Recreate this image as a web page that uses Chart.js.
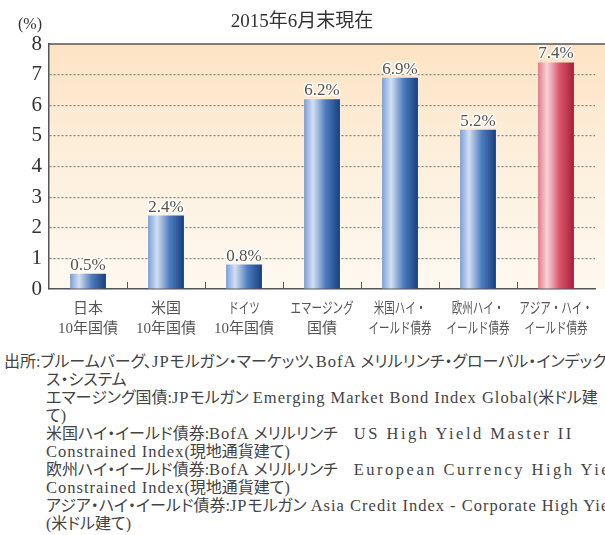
<!DOCTYPE html>
<html lang="ja">
<head>
<meta charset="utf-8">
<script src="https://cdn.jsdelivr.net/npm/chart.js@4/dist/chart.umd.min.js"></script>
<style>
  html, body { margin: 0; padding: 0; background: #fff; width: 605px; height: 535px; overflow: hidden; }
  #wrap { position: relative; width: 605px; height: 345px; }
  #note {
    position: absolute; top: 353px; left: 4px; width: 601px; overflow: hidden;
    font-family: "Liberation Serif", "Noto Sans CJK JP", serif; font-size: 16px; line-height: 18px;
    color: #444; white-space: nowrap; font-feature-settings: "palt";
  }
  #note div.in { padding-left: 42px; }
  #note span.l { font-size: 16.5px; letter-spacing: 1px; }
  #note span.w { font-size: 16.5px; letter-spacing: 2.5px; }
</style>
</head>
<body>
<div id="wrap"><canvas id="chart"></canvas></div>
<div id="note">
  <div>出所:ブルームバーグ、<span class="l">JP</span>モルガン・マーケッツ、<span class="l">BofA</span> メリルリンチ・グローバル・インデック</div>
  <div class="in">ス・システム</div>
  <div class="in">エマージング国債:<span class="l">JP</span>モルガン <span class="l">Emerging Market Bond Index Global</span>(米ドル建</div>
  <div class="in">て)</div>
  <div class="in">米国ハイ・イールド債券:<span class="l">BofA</span> メリルリンチ　<span class="w">US High Yield Master II</span></div>
  <div class="in"><span class="l">Constrained Index</span>(現地通貨建て)</div>
  <div class="in">欧州ハイ・イールド債券:<span class="l">BofA</span> メリルリンチ　<span class="w">European Currency High Yield</span></div>
  <div class="in"><span class="l">Constrained Index</span>(現地通貨建て)</div>
  <div class="in">アジア・ハイ・イールド債券:<span class="l">JP</span>モルガン <span class="l">Asia Credit Index - Corporate High Yield</span></div>
  <div class="in">(米ドル建て)</div>
</div>
<script>
// ================= DATA =================
const categories = [
  ["日本", "10年国債"],
  ["米国", "10年国債"],
  ["ドイツ", "10年国債"],
  ["エマージング", "国債"],
  ["米国ハイ・", "イールド債券"],
  ["欧州ハイ・", "イールド債券"],
  ["アジア・ハイ・", "イールド債券"]
];
const yields = [0.5, 2.4, 0.8, 6.2, 6.9, 5.2, 7.4];
const highlightIndex = 6;   // アジア bar is red
const yMin = 0, yMax = 8, yStep = 1;
const chartTitle = "2015年6月末現在";
const unitLabel = "(%)";

const SERIF = '"Liberation Serif", "Noto Sans CJK JP", serif';
const BAR_PCT = 0.46;

// ================= HELPERS =================
function barGradient(c) {
  const chart = c.chart;
  const xs = chart.scales.x;
  const red = c.dataIndex === highlightIndex;
  if (!chart.chartArea || !xs) return red ? "#d9566c" : "#4d7cc0";
  const cx = xs.getPixelForValue(c.dataIndex);
  const half = (xs.width / categories.length) * BAR_PCT / 2;
  const g = chart.ctx.createLinearGradient(cx - half, 0, cx + half, 0);
  if (red) {
    g.addColorStop(0, "#df7b8b");
    g.addColorStop(0.25, "#f9d3d9");
    g.addColorStop(0.6, "#d9566c");
    g.addColorStop(1, "#a71f38");
  } else {
    g.addColorStop(0, "#7b9fd8");
    g.addColorStop(0.25, "#d3e0f3");
    g.addColorStop(0.6, "#4d7cc0");
    g.addColorStop(1, "#183f7c");
  }
  return g;
}

// ================= PLUGINS =================
const backgroundPlugin = {
  id: "bg",
  beforeDraw(chart) {
    const { ctx, chartArea: a } = chart;
    const g = ctx.createLinearGradient(0, a.top, 0, a.bottom);
    g.addColorStop(0, "#fde3c4");
    g.addColorStop(0.5, "#fdf0de");
    g.addColorStop(1, "#fef9f0");
    ctx.save();
    ctx.fillStyle = g;
    ctx.fillRect(a.left, a.top, chart.width - a.left, a.bottom - a.top);
    ctx.restore();
  }
};

const decorPlugin = {
  id: "decor",
  afterDraw(chart) {
    const { ctx, chartArea: a } = chart;
    const xs = chart.scales.x;
    ctx.save();
    // top border
    ctx.strokeStyle = "#555";
    ctx.lineWidth = 1.5;
    ctx.beginPath();
    ctx.moveTo(a.left, a.top);
    ctx.lineTo(chart.width, a.top);
    ctx.stroke();
    // small ticks between categories
    ctx.lineWidth = 1;
    for (let i = 1; i < categories.length; i++) {
      const x = Math.round((xs.getPixelForValue(i - 1) + xs.getPixelForValue(i)) / 2) + 0.5;
      ctx.beginPath();
      ctx.moveTo(x, a.bottom - 7);
      ctx.lineTo(x, a.bottom);
      ctx.stroke();
    }
    // category labels (kana lines squeezed like the proportional original)
    ctx.font = "15px " + SERIF;
    ctx.textAlign = "center";
    ctx.textBaseline = "middle";
    ctx.fillStyle = "#555";
    categories.forEach((lines, i) => {
      const x = xs.getPixelForValue(i);
      lines.forEach((txt, j) => {
        const w = ctx.measureText(txt).width;
        const kana = /[\u30a0-\u30ff]/.test(txt);
        ctx.fillText(txt, x, a.bottom + 20 + j * 20, kana ? w * 0.7 : w);
      });
    });
    // value labels
    ctx.font = "17px " + SERIF;
    ctx.textBaseline = "alphabetic";
    ctx.lineJoin = "round";
    chart.getDatasetMeta(0).data.forEach((el, i) => {
      const txt = yields[i].toFixed(1) + "%";
      ctx.strokeStyle = "#fff";
      ctx.lineWidth = 3;
      ctx.strokeText(txt, el.x, el.y - 4);
      ctx.fillStyle = "#5a524a";
      ctx.fillText(txt, el.x, el.y - 4);
    });
    // title and unit
    ctx.fillStyle = "#333";
    ctx.textBaseline = "middle";
    ctx.font = "19px " + SERIF;
    ctx.fillText(chartTitle, 302, 22);
    ctx.font = "16px " + SERIF;
    ctx.textAlign = "left";
    ctx.fillText(unitLabel, 18, 25);
    ctx.restore();
  }
};

// ================= CHART =================
new Chart(document.getElementById("chart"), {
  type: "bar",
  data: {
    labels: categories,
    datasets: [{
      data: yields,
      backgroundColor: barGradient,
      borderWidth: 0,
      barPercentage: BAR_PCT,
      categoryPercentage: 1
    }]
  },
  options: {
    responsive: true,
    maintainAspectRatio: false,
    animation: false,
    layout: { padding: { top: 44, right: 10, left: 0, bottom: 0 } },
    plugins: {
      legend: { display: false },
      tooltip: { enabled: false }
    },
    scales: {
      x: {
        grid: { display: false },
        border: { display: true, color: "#555", width: 1.5 },
        ticks: { display: false },
        afterFit(scale) { scale.height = 56; }
      },
      y: {
        min: yMin,
        max: yMax,
        border: { display: true, color: "#555", width: 1.5, dash: [2, 2] },
        grid: {
          drawTicks: false,
          color: ctx => (ctx.tick && (ctx.tick.value === yMin || ctx.tick.value === yMax)) ? "rgba(0,0,0,0)" : "#8a847c",
          lineWidth: 1.2
        },
        ticks: {
          stepSize: yStep,
          color: "#333",
          padding: 7,
          font: { family: SERIF, size: 21 }
        },
        afterFit(scale) { scale.width = 49; }
      }
    }
  },
  plugins: [backgroundPlugin, decorPlugin]
});
</script>
</body>
</html>
